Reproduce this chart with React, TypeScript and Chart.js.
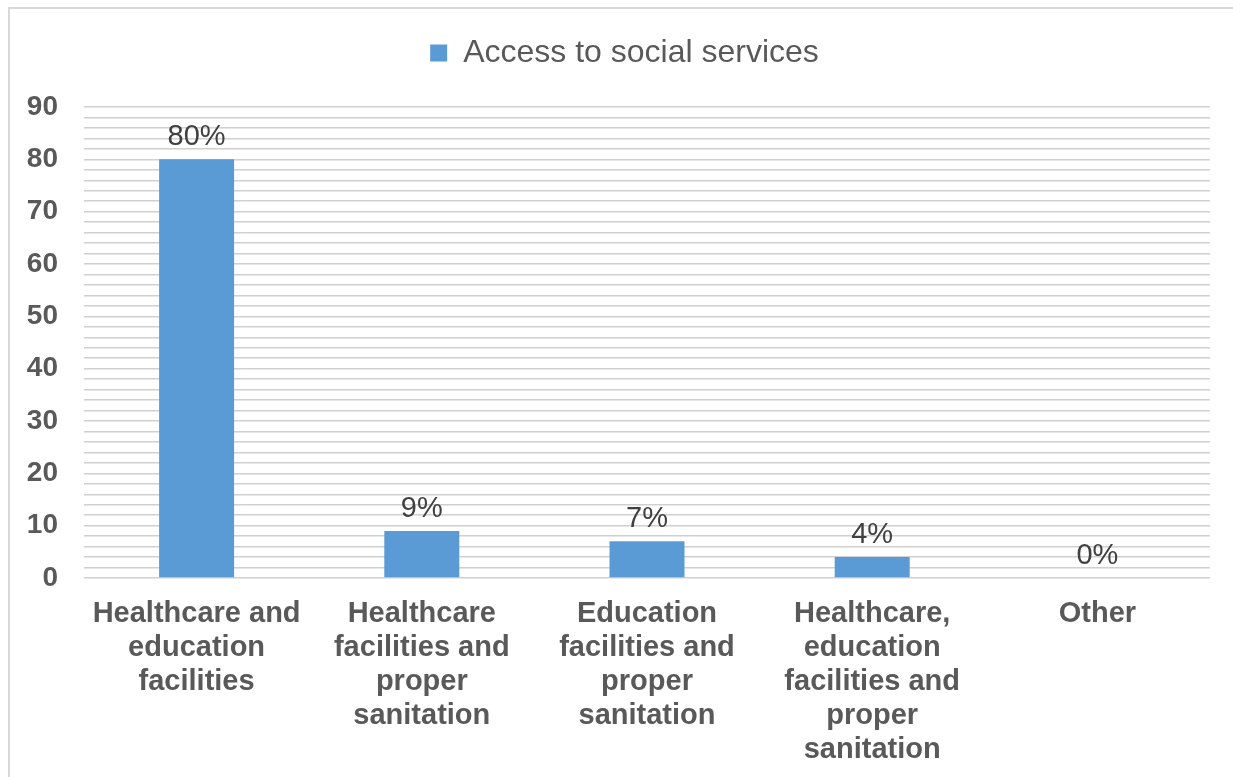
import React, { useEffect, useRef } from "react";
import { Chart, registerables } from "chart.js";

Chart.register(...registerables);

const categories: string[][] = [
  ["Healthcare and", "education", "facilities"],
  ["Healthcare", "facilities and", "proper", "sanitation"],
  ["Education", "facilities and", "proper", "sanitation"],
  ["Healthcare,", "education", "facilities and", "proper", "sanitation"],
  ["Other"],
];
const seriesName = "Access to social services";
const values: number[] = [80, 9, 7, 4, 0];
const yMin = 0;
const yMax = 90;
const yStep = 2;
const yLabelStep = 10;

const FONT = "'Liberation Sans', Arial, sans-serif";

const valueLabelPlugin = {
  id: "valueLabels",
  afterDatasetsDraw(chart: any) {
    const ctx = chart.ctx;
    const meta = chart.getDatasetMeta(0);
    ctx.save();
    ctx.font = `29px ${FONT}`;
    ctx.fillStyle = "#404040";
    ctx.textAlign = "center";
    ctx.textBaseline = "middle";
    meta.data.forEach((el: any, i: number) => {
      const v = chart.data.datasets[0].data[i];
      ctx.fillText(`${v}%`, el.x, el.y - 22);
    });
    ctx.restore();
  },
};

const legendSpacePlugin = {
  id: "legendSpace",
  afterInit(chart: any) {
    const legend = chart.legend;
    if (!legend) return;
    const origFit = legend.fit;
    legend.fit = function () {
      origFit.call(this);
      this.height += 28;
      if (this.lineWidths && this.lineWidths.length) {
        this.lineWidths[0] -= 12;
      }
    };
  },
};

export default function App() {
  const ref = useRef<HTMLCanvasElement>(null);
  useEffect(() => {
    if (!ref.current) return;
    const chart = new Chart(ref.current, {
      type: "bar",
      data: {
        labels: categories,
        datasets: [
          {
            label: seriesName,
            data: values,
            backgroundColor: "#5b9bd5",
            barPercentage: 0.333,
            categoryPercentage: 1,
          },
        ],
      },
      options: {
        animation: false,
        responsive: false,
        maintainAspectRatio: false,
        layout: { padding: { left: 27, right: 23, top: 25, bottom: 0 } },
        plugins: {
          legend: {
            display: true,
            position: "top",
            labels: {
              boxWidth: 17,
              boxHeight: 17,
              color: "#595959",
              font: { family: FONT, size: 32 },
              padding: 12,
            },
          },
          tooltip: { enabled: false },
        },
        scales: {
          x: {
            grid: { display: false, drawTicks: false },
            border: { display: false },
            afterFit: (s: any) => {
              s.height = 199;
            },
            ticks: {
              color: "#595959",
              font: { family: FONT, size: 29, weight: "bold", lineHeight: 34 / 29 },
              padding: 19,
              maxRotation: 0,
              autoSkip: false,
            },
          },
          y: {
            min: yMin,
            max: yMax,
            grid: { color: "#d0d0d0", lineWidth: 1.5, drawTicks: false },
            border: { display: false },
            afterFit: (s: any) => {
              s.width = 57;
            },
            ticks: {
              stepSize: yStep,
              autoSkip: false,
              padding: 26,
              color: "#595959",
              font: { family: FONT, size: 28, weight: "bold" },
              callback: (v: any) => (Number(v) % yLabelStep === 0 ? String(v) : ""),
            },
          },
        },
      },
      plugins: [valueLabelPlugin, legendSpacePlugin],
    });
    return () => chart.destroy();
  }, []);

  return (
    <div style={{ position: "fixed", left: 0, top: 0, width: 1233, height: 777, background: "#fff", overflow: "hidden" }}>
      <div
        style={{
          position: "absolute",
          left: 8,
          top: 7,
          width: 1240,
          height: 800,
          borderLeft: "2px solid #d9d9d9",
          borderTop: "2px solid #d9d9d9",
        }}
      />
      <canvas ref={ref} width={1233} height={777} style={{ position: "absolute", left: 0, top: 0 }} />
    </div>
  );
}
